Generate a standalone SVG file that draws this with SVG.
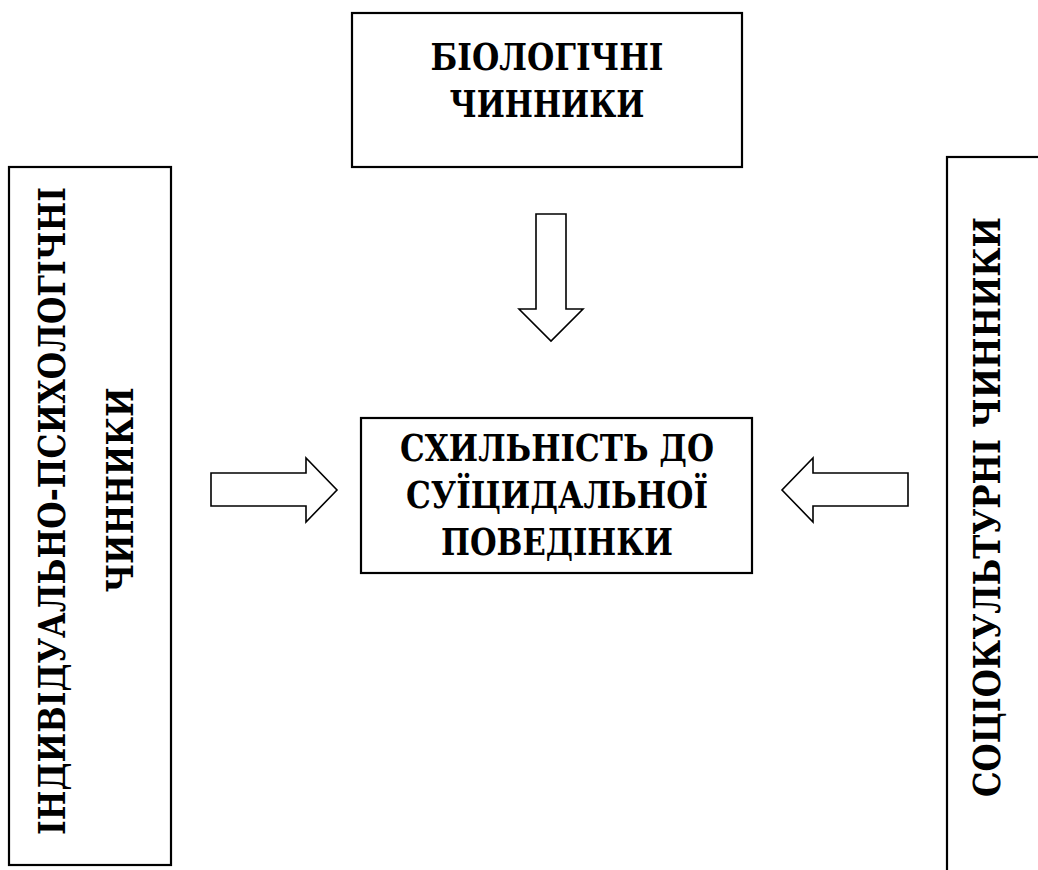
<svg xmlns="http://www.w3.org/2000/svg" width="1038" height="870" viewBox="0 0 1038 870">
<style>
.box{fill:#fff;stroke:#000;stroke-width:2.2}
.arr{fill:#fff;stroke:#000;stroke-width:1.6;stroke-linejoin:miter}
.t{font-family:'DejaVu Serif','Liberation Serif',serif;font-weight:700;font-size:37px;fill:#000;text-anchor:middle}
</style>
<rect width="1038" height="870" fill="#fff"/>
<g id="bio">
<rect class="box" x="352" y="13" width="390" height="154"/>
<text class="t" x="547" y="70" textLength="233" lengthAdjust="spacingAndGlyphs">БІОЛОГІЧНІ</text>
<text class="t" x="547" y="117" textLength="195" lengthAdjust="spacingAndGlyphs">ЧИННИКИ</text>
</g>
<g id="indiv">
<rect class="box" x="9" y="167" width="162" height="698"/>
<text class="t" transform="translate(65,511) rotate(-90)" x="0" y="0" textLength="648" lengthAdjust="spacingAndGlyphs">ІНДИВІДУАЛЬНО-ПСИХОЛОГІЧНІ</text>
<text class="t" transform="translate(133,490) rotate(-90)" x="0" y="0" textLength="205" lengthAdjust="spacingAndGlyphs">ЧИННИКИ</text>
</g>
<g id="socio">
<rect class="box" x="947" y="157" width="120" height="740"/>
<text class="t" transform="translate(1000,507) rotate(-90)" x="0" y="0" textLength="580" lengthAdjust="spacingAndGlyphs">СОЦІОКУЛЬТУРНІ ЧИННИКИ</text>
</g>
<g id="center">
<rect class="box" x="361" y="418" width="391" height="155"/>
<text class="t" x="557" y="461" textLength="314" lengthAdjust="spacingAndGlyphs">СХИЛЬНІСТЬ ДО</text>
<text class="t" x="557" y="508" textLength="302" lengthAdjust="spacingAndGlyphs">СУЇЦИДАЛЬНОЇ</text>
<text class="t" x="557" y="555" textLength="232" lengthAdjust="spacingAndGlyphs">ПОВЕДІНКИ</text>
</g>
<g id="connectors">
<path class="arr" d="M536,214 H566 V309 H583 L551,341 L519,309 H536 Z"/>
<path class="arr" d="M211,473 H306 V458 L337,490 L306,522 V506 H211 Z"/>
<path class="arr" d="M908,473 H813 V458 L782,490 L813,522 V506 H908 Z"/>
</g>
</svg>
